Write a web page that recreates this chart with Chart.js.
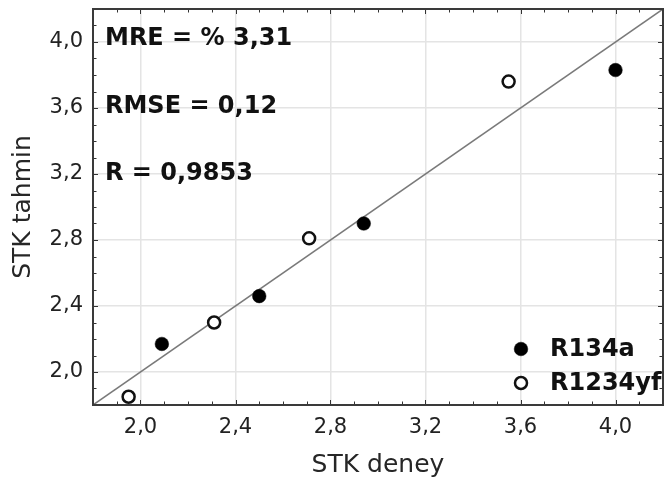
<!DOCTYPE html>
<html><head><meta charset="utf-8">
<script src="https://cdn.jsdelivr.net/npm/chart.js@4/dist/chart.umd.min.js"></script>
<style>html,body{margin:0;padding:0;background:#fff;overflow:hidden;}canvas{display:block;}</style>
</head><body><canvas id="c" width="664" height="485"></canvas>
<script>
// ---- data ----
const r134aX = [2.09, 2.50, 2.94, 4.00];
const r134aY = [2.17, 2.46, 2.90, 3.83];
const r1234yfX = [1.95, 2.31, 2.71, 3.55];
const r1234yfY = [1.85, 2.30, 2.81, 3.76];
const idealLine = [1.8, 4.2];
const tickValues = [2.0, 2.4, 2.8, 3.2, 3.6, 4.0];
const xTickLabels = ['2,0', '2,4', '2,8', '3,2', '3,6', '4,0'];
const yTickLabels = ['2,0', '2,4', '2,8', '3,2', '3,6', '4,0'];
const axisMin = 1.8, axisMax = 4.2, minorStep = 0.1;
const statLines = ['MRE = % 3,31', 'RMSE = 0,12', 'R = 0,9853'];
const seriesNames = ['R134a', 'R1234yf'];
const xTitle = 'STK deney', yTitle = 'STK tahmin';

const toPts = (xs, ys) => xs.map((v, i) => ({x: v, y: ys[i]}));
const FONT = '"DejaVu Sans", sans-serif';

const framePlugin = {
  id: 'frame',
  afterDatasetsDraw(chart) {
    const {ctx, chartArea: a, scales: {x, y}} = chart;
    ctx.save();
    ctx.strokeStyle = '#333'; ctx.lineWidth = 1;
    const n = Math.round((axisMax - axisMin) / minorStep);
    for (let i = 0; i <= n; i++) {
      const v = axisMin + i * minorStep;
      const major = tickValues.some(t => Math.abs(t - v) < 1e-6);
      const L = major ? 5 : 3.5;
      const px = Math.round(x.getPixelForValue(v)) + 0.5;
      const py = Math.round(y.getPixelForValue(v)) + 0.5;
      ctx.beginPath();
      ctx.moveTo(px, a.bottom); ctx.lineTo(px, a.bottom - L);
      ctx.moveTo(px, a.top); ctx.lineTo(px, a.top + L);
      ctx.moveTo(a.left, py); ctx.lineTo(a.left + L, py);
      ctx.moveTo(a.right, py); ctx.lineTo(a.right - L, py);
      ctx.stroke();
    }
    ctx.strokeStyle = '#3a3a3a'; ctx.lineWidth = 2;
    ctx.strokeRect(a.left, a.top, a.right - a.left, a.bottom - a.top);

    // statistics text
    ctx.fillStyle = '#111';
    ctx.font = 'bold 24px ' + FONT;
    ctx.textAlign = 'left'; ctx.textBaseline = 'alphabetic';
    statLines.forEach((t, i) => ctx.fillText(t, a.left + 12, a.top + 36 + i * 67.5));

    // legend
    const ds = chart.data.datasets.filter(d => d.type === 'scatter');
    ds.forEach((d, i) => {
      const mx = a.right - 142, my = a.bottom - 56 + i * 34;
      ctx.beginPath();
      ctx.arc(mx, my, d.pointRadius, 0, Math.PI * 2);
      ctx.fillStyle = d.backgroundColor; ctx.fill();
      ctx.lineWidth = d.borderWidth; ctx.strokeStyle = d.borderColor; ctx.stroke();
      ctx.fillStyle = '#111';
      ctx.font = 'bold 24px ' + FONT;
      ctx.textBaseline = 'middle';
      ctx.fillText(d.label, a.right - 113, my + 1);
    });
    ctx.restore();
  }
};

const axisCommon = (labels, title, tpad) => ({
  type: 'linear', min: axisMin, max: axisMax,
  afterBuildTicks: s => { s.ticks = tickValues.map(v => ({value: v})); },
  ticks: {
    autoSkip: false, maxRotation: 0, padding: 10, color: '#222',
    font: {family: FONT, size: 21},
    callback: (v, i) => labels[i]
  },
  grid: {color: '#e4e4e4', lineWidth: 1.5, drawTicks: false},
  border: {display: false},
  title: {display: true, text: title, color: '#262626', font: {family: FONT, size: 25}, padding: {top: tpad, bottom: tpad}}
});

const xAxis = axisCommon(xTickLabels, xTitle, 5);
xAxis.afterFit = s => { s.height = 80; s.paddingLeft = 0; s.paddingRight = 0; };
const yAxis = axisCommon(yTickLabels, yTitle, 8);
yAxis.afterFit = s => { s.width = 93; s.paddingTop = 0; s.paddingBottom = 0; };

new Chart(document.getElementById('c'), {
  data: {
    datasets: [
      {type: 'scatter', label: seriesNames[0], data: toPts(r134aX, r134aY), order: 0,
       pointRadius: 6.8, backgroundColor: '#000', borderColor: '#000', borderWidth: 0.5},
      {type: 'scatter', label: seriesNames[1], data: toPts(r1234yfX, r1234yfY), order: 1,
       pointRadius: 6, backgroundColor: '#fff', borderColor: '#111', borderWidth: 2.5},
      {type: 'line', label: 'y = x', data: toPts(idealLine, idealLine), order: 5,
       borderColor: '#7a7a7a', borderWidth: 1.5, pointRadius: 0, fill: false}
    ]
  },
  options: {
    responsive: false, animation: false,
    layout: {autoPadding: false, padding: {top: 9, right: 1, left: 0, bottom: 0}},
    plugins: {legend: {display: false}, tooltip: {enabled: false}},
    scales: {x: xAxis, y: yAxis}
  },
  plugins: [framePlugin]
});
</script></body></html>
